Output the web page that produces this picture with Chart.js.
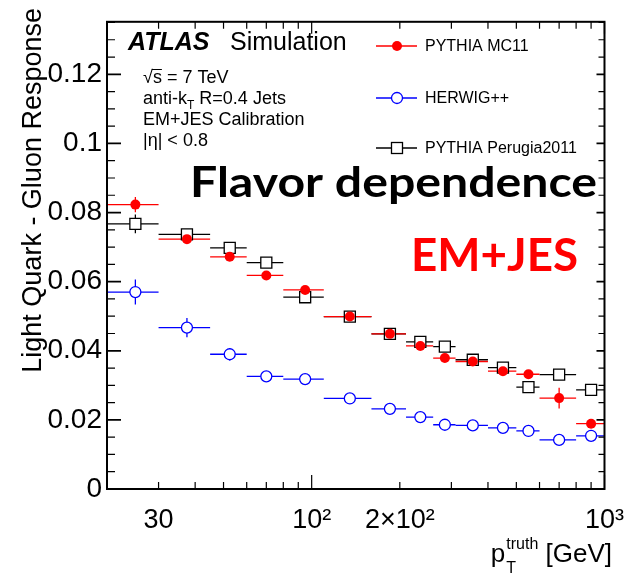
<!DOCTYPE html>
<html>
<head>
<meta charset="utf-8">
<script src="https://cdn.jsdelivr.net/npm/chart.js@4.4.1/dist/chart.umd.min.js"></script>
<style>
  html, body { margin: 0; padding: 0; background: #fff; }
  canvas { display: block; }
</style>
</head>
<body>
<canvas id="chartFlavor" width="639" height="575"></canvas>
<script>
// pT bins [GeV]
const binLow    = [20, 30, 45, 60, 80, 110, 160, 210, 260, 310, 400, 500, 600, 800];
const binHigh   = [30, 45, 60, 80, 110, 160, 210, 260, 310, 400, 500, 600, 800, 1000];
const binCenter = [25, 37.5, 52.5, 70, 95, 135, 185, 235, 285, 355, 450, 550, 700, 900];

// light quark - gluon response difference per generator
const mc11       = [0.0823, 0.0723, 0.0672, 0.0618, 0.0576, 0.0499, 0.0449, 0.0414, 0.0379, 0.0369, 0.0341, 0.0332, 0.0263, 0.0189];
const mc11Err    = [0.0022, 0.0012, 0.0010, 0.0008, 0.0008, 0.0005, 0.0005, 0.0006, 0.0006, 0.0007, 0.0008, 0.0009, 0.0030, 0.0012];
const herwig     = [0.0570, 0.0467, 0.0390, 0.0326, 0.0318, 0.0262, 0.0232, 0.0208, 0.0186, 0.0184, 0.0177, 0.0168, 0.0142, 0.0154];
const herwigErr  = [0.0036, 0.0028, 0.0018, 0.0012, 0.0010, 0.0006, 0.0006, 0.0006, 0.0006, 0.0007, 0.0008, 0.0009, 0.0010, 0.0010];
const perugia    = [0.0767, 0.0737, 0.0698, 0.0655, 0.0555, 0.0499, 0.0449, 0.0426, 0.0412, 0.0374, 0.0351, 0.0295, 0.0331, 0.0287];
const perugiaErr = [0.0027, 0.0015, 0.0017, 0.0012, 0.0010, 0.0005, 0.0005, 0.0006, 0.0006, 0.0007, 0.0008, 0.0009, 0.0010, 0.0012];

const xTickValues = [30, 100, 200, 1000];
const xTickLabels = ['30', '10²', '2×10²', '10³'];
const yTickValues = [0, 0.02, 0.04, 0.06, 0.08, 0.1, 0.12];
const yTickLabels = ['0', '0.02', '0.04', '0.06', '0.08', '0.1', '0.12'];

const HELV = '"Liberation Sans", Arial, sans-serif';

const toPoints = (vals) => binCenter.map((x, i) => ({ x: x, y: vals[i] }));

// horizontal bar = bin width, vertical bar = stat. error
const errorBars = {
    id: 'errorBars',
    beforeDatasetsDraw(chart) {
        const { ctx, chartArea, scales: { x, y } } = chart;
        ctx.save();
        ctx.beginPath();
        ctx.rect(chartArea.left, chartArea.top, chartArea.width, chartArea.height);
        ctx.clip();
        chart.data.datasets.slice().reverse().forEach(ds => {
            ctx.strokeStyle = ds.borderColor;
            ctx.lineWidth = 1.3;
            ds.data.forEach((p, i) => {
                const px = x.getPixelForValue(p.x);
                const py = y.getPixelForValue(p.y);
                ctx.beginPath();
                ctx.moveTo(x.getPixelForValue(binLow[i]), py);
                ctx.lineTo(x.getPixelForValue(binHigh[i]), py);
                ctx.moveTo(px, y.getPixelForValue(p.y - ds.errors[i]));
                ctx.lineTo(px, y.getPixelForValue(p.y + ds.errors[i]));
                ctx.stroke();
            });
        });
        ctx.restore();
    }
};

const drawMarker = (ctx, kind, x, y) => {
    ctx.save();
    ctx.lineWidth = 1.3;
    if (kind === 'fill') {
        ctx.fillStyle = '#ff0000';
        ctx.beginPath(); ctx.arc(x, y, 5, 0, Math.PI * 2); ctx.fill();
    } else if (kind === 'open') {
        ctx.strokeStyle = '#0000ff'; ctx.fillStyle = '#fff';
        ctx.beginPath(); ctx.arc(x, y, 5.5, 0, Math.PI * 2); ctx.fill(); ctx.stroke();
    } else {
        ctx.strokeStyle = '#000'; ctx.fillStyle = '#fff';
        ctx.fillRect(x - 5.5, y - 5.5, 11, 11);
        ctx.strokeRect(x - 5.5, y - 5.5, 11, 11);
    }
    ctx.restore();
};

// squeeze/stretch a text to a given width
const fitText = (ctx, text, left, right, baseline, size, color) => {
    ctx.save();
    ctx.font = `bold ${size}px Lato, "Liberation Sans", sans-serif`;
    const w = ctx.measureText(text).width;
    ctx.translate(left, baseline);
    ctx.scale((right - left) / w, 1);
    ctx.fillStyle = color;
    ctx.textAlign = 'left';
    ctx.textBaseline = 'alphabetic';
    ctx.fillText(text, 0, 0);
    ctx.restore();
};

const frameAndText = {
    id: 'frameAndText',
    afterDraw(chart) {
        const { ctx, chartArea: a, scales: { x, y } } = chart;
        ctx.save();

        // frame
        ctx.strokeStyle = '#000';
        ctx.lineWidth = 2;
        ctx.strokeRect(a.left, a.top, a.right - a.left, a.bottom - a.top);

        // inward ticks, x (log)
        ctx.lineWidth = 1.2;
        for (let dec = 10; dec <= 1000; dec *= 10) {
            for (let m = 1; m <= 9; m++) {
                const v = m * dec;
                if (v < x.min || v > x.max) continue;
                const px = x.getPixelForValue(v);
                const major = m === 1;
                ctx.beginPath();
                ctx.moveTo(px, a.bottom); ctx.lineTo(px, a.bottom - (major ? 14 : 7));
                ctx.moveTo(px, a.top); ctx.lineTo(px, a.top + (major ? 12 : 7));
                ctx.stroke();
            }
        }
        // inward ticks, y
        for (let k = 0; k * 0.005 <= y.max; k++) {
            const py = y.getPixelForValue(k * 0.005);
            const major = k % 4 === 0;
            ctx.lineWidth = major ? 1.8 : 1.2;
            ctx.beginPath();
            ctx.moveTo(a.left, py); ctx.lineTo(a.left + (major ? 14 : 8), py);
            ctx.moveTo(a.right, py); ctx.lineTo(a.right - (major ? 8 : 6), py);
            ctx.stroke();
        }

        ctx.fillStyle = '#000';
        ctx.textBaseline = 'alphabetic';
        ctx.textAlign = 'left';

        // ATLAS Simulation
        ctx.font = `italic bold 25px ${HELV}`;
        ctx.fillText('ATLAS', 128, 50);
        ctx.font = `25px ${HELV}`;
        ctx.fillText('Simulation', 230, 50);

        // info block
        ctx.font = `18px ${HELV}`;
        ctx.fillText('√s = 7 TeV', 143, 83);
        const sqrtW = ctx.measureText('√').width;
        const sW = ctx.measureText('s').width;
        ctx.lineWidth = 1;
        ctx.beginPath();
        ctx.moveTo(143 + sqrtW - 1, 69.5); ctx.lineTo(143 + sqrtW + sW, 69.5);
        ctx.stroke();

        ctx.fillText('anti-k', 143, 104);
        let xx = 143 + ctx.measureText('anti-k').width;
        ctx.font = `12px ${HELV}`;
        ctx.fillText('T', xx, 109);
        xx += ctx.measureText('T').width;
        ctx.font = `18px ${HELV}`;
        ctx.fillText(' R=0.4 Jets', xx, 104);
        ctx.fillText('EM+JES Calibration', 143, 125);
        ctx.fillText('|η| < 0.8', 143, 146);

        // legend
        const legend = [
            ['PYTHIA MC11', '#ff0000', 'fill', 46],
            ['HERWIG++', '#0000ff', 'open', 98],
            ['PYTHIA Perugia2011', '#000', 'square', 148]
        ];
        legend.forEach(([label, color, kind, ly]) => {
            ctx.strokeStyle = color;
            ctx.lineWidth = 1.3;
            ctx.beginPath(); ctx.moveTo(376, ly); ctx.lineTo(417, ly); ctx.stroke();
            drawMarker(ctx, kind, 397, ly);
            ctx.fillStyle = '#000';
            ctx.font = `16px ${HELV}`;
            ctx.textBaseline = 'middle';
            ctx.fillText(label, 425, ly + 1);
        });
        ctx.textBaseline = 'alphabetic';

        // big labels
        fitText(ctx, 'Flavor dependence', 190, 597, 197, 42, '#000');
        fitText(ctx, 'EM+JES', 411, 578, 271, 46, '#ff0000');

        // y title, right-aligned to the top of the frame
        ctx.save();
        ctx.translate(41, 8);
        ctx.rotate(-Math.PI / 2);
        ctx.font = `27px ${HELV}`;
        ctx.textAlign = 'right';
        ctx.fillStyle = '#000';
        ctx.fillText('Light Quark - Gluon Response', 0, 0);
        ctx.restore();

        // x title: p_T^truth [GeV]
        ctx.font = `26px ${HELV}`;
        const pW = ctx.measureText('p').width;
        const gevW = ctx.measureText(' [GeV]').width;
        ctx.font = `16px ${HELV}`;
        const truthW = ctx.measureText('truth').width;
        const start = 612 - gevW - truthW - pW - 1;
        ctx.font = `26px ${HELV}`;
        ctx.fillText('p', start, 562);
        ctx.fillText(' [GeV]', start + pW + 1 + truthW, 562);
        ctx.font = `16px ${HELV}`;
        ctx.fillText('truth', start + pW + 1, 549);
        ctx.fillText('T', start + pW + 1, 573);

        ctx.restore();
    }
};

const data = {
    datasets: [
        {
            label: 'PYTHIA MC11',
            data: toPoints(mc11),
            errors: mc11Err,
            borderColor: '#ff0000',
            backgroundColor: '#ff0000',
            pointStyle: 'circle',
            pointRadius: 5,
            pointBorderWidth: 0
        },
        {
            label: 'HERWIG++',
            data: toPoints(herwig),
            errors: herwigErr,
            borderColor: '#0000ff',
            backgroundColor: '#ffffff',
            pointStyle: 'circle',
            pointRadius: 5.5,
            pointBorderWidth: 1.3
        },
        {
            label: 'PYTHIA Perugia2011',
            data: toPoints(perugia),
            errors: perugiaErr,
            borderColor: '#000000',
            backgroundColor: '#ffffff',
            pointStyle: 'rect',
            pointRadius: 7.8,
            pointBorderWidth: 1.3
        }
    ]
};

const chartFlavor = new Chart(document.getElementById('chartFlavor').getContext('2d'), {
    type: 'scatter',
    data: data,
    plugins: [errorBars, frameAndText],
    options: {
        responsive: false,
        animation: false,
        devicePixelRatio: 1,
        layout: { padding: { top: 8, right: 32, left: 0, bottom: 0 } },
        plugins: { legend: { display: false }, tooltip: { enabled: false } },
        scales: {
            x: {
                type: 'logarithmic',
                min: 20,
                max: 1000,
                grid: { display: false, drawTicks: false },
                border: { display: false },
                afterBuildTicks: (axis) => { axis.ticks = xTickValues.map(v => ({ value: v })); },
                afterFit: (axis) => { axis.height = 86; },
                ticks: {
                    autoSkip: false,
                    maxRotation: 0,
                    padding: 15,
                    color: '#000',
                    font: { family: HELV, size: 27 },
                    callback: (v) => xTickLabels[xTickValues.indexOf(v)]
                }
            },
            y: {
                min: 0,
                max: 0.1352,
                grid: { display: false, drawTicks: false },
                border: { display: false },
                afterBuildTicks: (axis) => { axis.ticks = yTickValues.map(v => ({ value: v })); },
                afterFit: (axis) => { axis.width = 107; },
                ticks: {
                    padding: 5,
                    color: '#000',
                    font: { family: HELV, size: 28 },
                    callback: (v) => yTickLabels[yTickValues.indexOf(v)]
                }
            }
        }
    }
});
</script>
</body>
</html>
